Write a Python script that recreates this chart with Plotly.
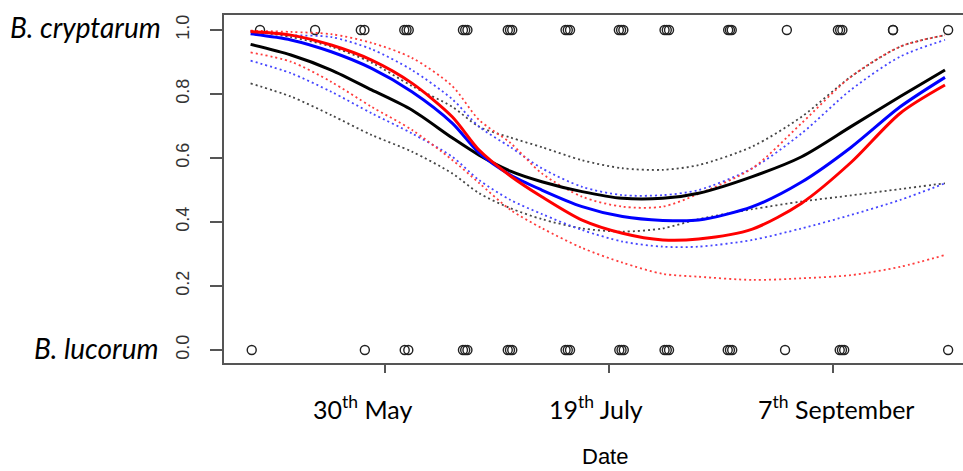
import plotly.graph_objects as go

# ---- data (day of year) ----
days = [120, 129, 138, 147, 156, 165, 171, 178, 185, 194, 203, 212, 220, 232, 243, 254, 265, 275]

black_fit = [0.955, 0.922, 0.875, 0.813, 0.750, 0.663, 0.609, 0.559, 0.526, 0.495, 0.474, 0.474, 0.490, 0.542, 0.604, 0.698, 0.792, 0.875]
black_hi = [0.997, 0.978, 0.948, 0.898, 0.825, 0.760, 0.698, 0.664, 0.634, 0.593, 0.568, 0.563, 0.578, 0.636, 0.729, 0.854, 0.948, 0.984]
black_lo = [0.833, 0.792, 0.734, 0.672, 0.620, 0.552, 0.490, 0.443, 0.409, 0.380, 0.370, 0.380, 0.409, 0.440, 0.464, 0.483, 0.503, 0.521]

blue_fit = [0.988, 0.969, 0.932, 0.880, 0.807, 0.709, 0.616, 0.547, 0.500, 0.448, 0.417, 0.405, 0.406, 0.448, 0.525, 0.633, 0.760, 0.852]
blue_hi = [0.995, 0.984, 0.978, 0.940, 0.875, 0.784, 0.698, 0.634, 0.568, 0.510, 0.484, 0.484, 0.500, 0.568, 0.677, 0.813, 0.917, 0.969]
blue_lo = [0.904, 0.865, 0.807, 0.740, 0.677, 0.604, 0.531, 0.469, 0.425, 0.375, 0.339, 0.323, 0.323, 0.344, 0.380, 0.422, 0.469, 0.521]

red_fit = [0.995, 0.984, 0.953, 0.906, 0.834, 0.729, 0.625, 0.544, 0.479, 0.406, 0.365, 0.344, 0.347, 0.378, 0.459, 0.586, 0.740, 0.828]
red_hi = [0.998, 0.994, 0.987, 0.960, 0.913, 0.825, 0.719, 0.647, 0.552, 0.479, 0.448, 0.448, 0.488, 0.568, 0.709, 0.854, 0.948, 0.984]
red_lo = [0.930, 0.901, 0.838, 0.760, 0.688, 0.594, 0.522, 0.438, 0.381, 0.319, 0.273, 0.238, 0.229, 0.219, 0.224, 0.234, 0.260, 0.297]

# observations: B. cryptarum = 1, B. lucorum = 0
cryptarum_days = [122.1, 134.4, 144.6, 145.4, 154.3, 154.8, 155.3, 167.4, 167.9, 168.4, 177.4, 177.9, 178.4,
                  190.3, 190.8, 191.3, 202.2, 202.7, 203.2, 212.4, 212.9, 213.4, 226.6, 227.0, 227.4, 239.7,
                  251.1, 251.6, 252.1, 263.4, 263.4, 275.7]
lucorum_days = [120.25, 145.5, 154.4, 155.2, 167.4, 167.9, 168.4, 177.4, 177.9, 178.4, 190.3, 190.8, 191.3,
                202.3, 202.8, 203.3, 212.4, 212.9, 213.4, 226.5, 227.0, 227.5, 239.3, 251.5, 252.0, 252.5, 275.7]

tick_days = [150, 200, 250]
tick_labels = ["30<sup>th</sup> May", "19<sup>th</sup> July", "7<sup>th</sup> September"]
label_days = [144.9, 197.0, 250.6]
y_ticks = [0.0, 0.2, 0.4, 0.6, 0.8, 1.0]
species = ["B. cryptarum", "B. lucorum"]

fig = go.Figure()

for obs, val in [(cryptarum_days, 1.0), (lucorum_days, 0.0)]:
    fig.add_trace(go.Scatter(x=obs, y=[val] * len(obs), mode="markers",
                             marker=dict(symbol="circle-open", size=9, color="#222", line=dict(width=1.4))))

dot = "2px,3px"
bands = [(black_hi, "rgb(70,70,70)"), (black_lo, "rgb(70,70,70)"),
         (blue_hi, "rgb(70,70,255)"), (blue_lo, "rgb(70,70,255)"),
         (red_hi, "rgb(255,60,60)"), (red_lo, "rgb(255,60,60)")]
for vals, col in bands:
    fig.add_trace(go.Scatter(x=days, y=vals, mode="lines",
                             line=dict(color=col, width=1.8, dash=dot, shape="spline", smoothing=0.8)))

for vals, col in [(black_fit, "black"), (blue_fit, "#0000ff"), (red_fit, "#ff0000")]:
    fig.add_trace(go.Scatter(x=days, y=vals, mode="lines",
                             line=dict(color=col, width=3, shape="spline", smoothing=0.8)))

annotations = []
for d, t in zip(label_days, tick_labels):
    annotations.append(dict(x=d, y=0, xref="x", yref="paper", yshift=-44, text=t, showarrow=False,
                            font=dict(family="Lato", size=25, color="black"), xanchor="center", yanchor="middle"))
annotations.append(dict(x=0.516, y=0, xref="paper", yref="paper", yshift=-93, text="Date", showarrow=False,
                        font=dict(family="Liberation Sans", size=22, color="black"), xanchor="center", yanchor="middle"))
annotations.append(dict(x=-0.083, y=1.0, xref="paper", yref="y", yshift=3, text="<i>" + species[0] + "</i>",
                        showarrow=False, font=dict(family="Lato", size=28, color="black"),
                        xanchor="right", yanchor="middle"))
annotations.append(dict(x=-0.085, y=0.0, xref="paper", yref="y", yshift=2, text="<i>" + species[1] + "</i>",
                        showarrow=False, font=dict(family="Lato", size=28, color="black"),
                        xanchor="right", yanchor="middle"))

fig.update_layout(
    width=963, height=471,
    margin=dict(l=224, r=0, t=15, b=108),
    paper_bgcolor="white", plot_bgcolor="white",
    showlegend=False, hovermode=False,
    annotations=annotations,
    xaxis=dict(range=[114.06, 279.02], tickvals=tick_days, ticktext=["", "", ""],
               ticks="outside", ticklen=8, tickwidth=1.5, tickcolor="#555",
               showline=True, linecolor="#555", linewidth=1.5, mirror=True,
               showgrid=False, zeroline=False),
    yaxis=dict(range=[-0.0406, 1.0469], tickvals=y_ticks, ticktext=[f"{v:.1f}" for v in y_ticks],
               tickangle=-90, ticks="outside", ticklen=12, tickwidth=1.5, tickcolor="#555",
               ticklabelstandoff=14,
               tickfont=dict(family="Liberation Sans", size=18, color="#333"),
               showline=True, linecolor="#555", linewidth=1.5, mirror=False,
               showgrid=False, zeroline=False),
)

fig.write_html("out.html")
